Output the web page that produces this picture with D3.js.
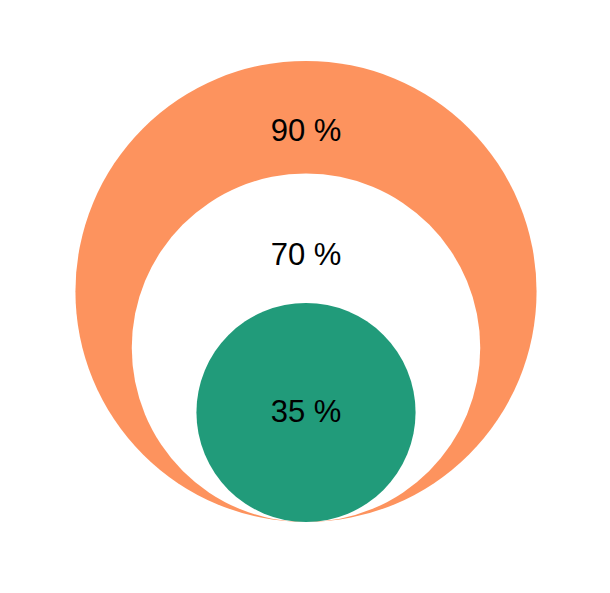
<!DOCTYPE html>
<html>
<head>
<meta charset="utf-8">
<script src="https://cdn.jsdelivr.net/npm/d3@7"></script>
<style>
  body { margin: 0; background: #fff; }
  svg text { font-family: "Liberation Sans", Arial, sans-serif; }
</style>
</head>
<body>
<div class="chartContainer"></div>
<script>
// Data
var values = [90, 70, 35];
var labels = ["90 %", "70 %", "35 %"];
var fills = ["#fd935e", "#ffffff", "#219b7a"];

var width = 610, height = 593;
var cx = 306, bottom = 522;

var svg = d3.select(".chartContainer").append("svg")
    .attr("width", width)
    .attr("height", height);

// radius grows with the square of the value
var r = d3.scalePow().exponent(2).domain([0, 100]).range([88, 264]);

var circles = values.map(function (v, i) {
    return { value: v, label: labels[i], fill: fills[i], r: r(v), cy: bottom - r(v) };
});

svg.selectAll(".circle").data(circles).enter().append("circle")
    .attr("class", "circle")
    .attr("cx", cx)
    .attr("cy", d => d.cy)
    .attr("r", d => d.r)
    .style("fill", d => d.fill);

svg.selectAll(".label").data(circles).enter().append("text")
    .attr("class", "label")
    .attr("x", cx)
    .attr("y", (d, i) => {
        var top = d.cy - d.r;
        if (i < circles.length - 1) {
            var nextTop = circles[i + 1].cy - circles[i + 1].r;
            return top + 0.71 * (nextTop - top);
        }
        return d.cy + 10;
    })
    .attr("text-anchor", "middle")
    .attr("font-size", "31px")
    .attr("fill", "#000")
    .text(d => d.label);
</script>
</body>
</html>
